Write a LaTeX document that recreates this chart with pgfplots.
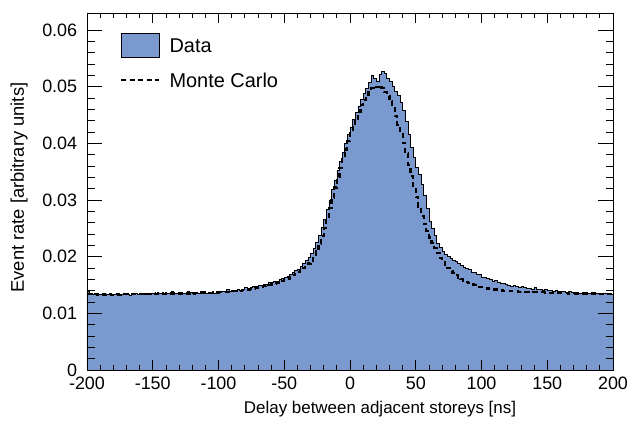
\documentclass[border=0pt]{standalone}
\usepackage{fontspec}
\setmainfont{Liberation Sans}
\usepackage{pgfplots}
\pgfplotsset{compat=1.18}
\definecolor{histblue}{RGB}{122,153,207}

\begin{document}
\fontsize{20}{24}\selectfont
\begin{tikzpicture}
\begin{axis}[
    scale only axis,
    width=526bp, height=357bp,
    xmin=-200, xmax=200,
    ymin=0, ymax=0.063,
    xtick={-200,-150,...,200},
    ytick={0,0.01,...,0.06},
    minor x tick num=4,
    minor y tick num=4,
    tick align=inside,
    axis on top,
    xtick style={/pgfplots/major tick length=10bp,/pgfplots/minor tick length=5bp,black,line width=0.8bp},
    ytick style={/pgfplots/major tick length=15bp,/pgfplots/minor tick length=7.5bp,black,line width=0.8bp},
    axis line style={line width=0.9bp},
    scaled y ticks=false,
    ticklabel style={font=\fontsize{18}{21}\selectfont},
    yticklabel style={/pgf/number format/fixed,/pgf/number format/precision=2,xshift=-3bp},
    /pgf/number format/assume math mode=true,
    xlabel={Delay between adjacent storeys [ns]},
    ylabel={Event rate [arbitrary units]},
    xlabel style={font=\fontsize{17}{20}\selectfont,at={(axis description cs:0.557,-0.109)},anchor=center},
    ylabel style={font=\fontsize{18.4}{22}\selectfont,at={(axis description cs:-0.129,0.511)},anchor=center},
    legend style={draw=none, fill=none, at={(axis description cs:0.063,0.944)},
        anchor=north west, inner sep=0pt, row sep=15bp,
        font=\fontsize{20}{24}\selectfont,
        nodes={inner sep=0pt, text height=14.3bp, text depth=0pt}},
    legend cell align=left,
]

% Data histogram, 2 ns bins
\addplot[const plot, fill=histblue, draw=black, line width=0.7bp,
    legend image code/.code={\draw[fill=histblue,draw=black,line width=0.8bp] (0bp,-12bp) rectangle (38bp,12bp); \path (47bp,0bp);}]
coordinates {
(-200,0.0139)(-198,0.0136)(-196,0.0134)(-194,0.0135)(-192,0.0134)(-190,0.0133)(-188,0.0134)(-186,0.0133)(-184,0.0133)(-182,0.0134)
(-180,0.0133)(-178,0.0134)(-176,0.0132)(-174,0.0134)(-172,0.0135)(-170,0.0133)(-168,0.0132)(-166,0.0134)(-164,0.0135)(-162,0.0134)
(-160,0.0136)(-158,0.0134)(-156,0.0135)(-154,0.0134)(-152,0.0136)(-150,0.0135)(-148,0.0134)(-146,0.0136)(-144,0.0135)(-142,0.0136)
(-140,0.0135)(-138,0.0135)(-136,0.0138)(-134,0.0136)(-132,0.0136)(-130,0.0137)(-128,0.0135)(-126,0.0136)(-124,0.0138)(-122,0.0137)
(-120,0.0136)(-118,0.0137)(-116,0.0136)(-114,0.0138)(-112,0.0139)(-110,0.0136)(-108,0.0137)(-106,0.0137)(-104,0.0136)(-102,0.0138)
(-100,0.0137)(-98,0.0139)(-96,0.0138)(-94,0.0142)(-92,0.0139)(-90,0.0140)(-88,0.0141)(-86,0.0142)(-84,0.0141)(-82,0.0143)
(-80,0.0145)(-78,0.0144)(-76,0.0146)(-74,0.0147)(-72,0.0148)(-70,0.0149)(-68,0.0150)(-66,0.0152)(-64,0.0151)(-62,0.0154)
(-60,0.0155)(-58,0.0157)(-56,0.0156)(-54,0.0160)(-52,0.0161)(-50,0.0163)(-48,0.0166)(-46,0.0168)(-44,0.0172)(-42,0.0175)
(-40,0.0178)(-38,0.0183)(-36,0.0189)(-34,0.0193)(-32,0.0198)(-30,0.0206)(-28,0.0215)(-26,0.0226)(-24,0.0238)(-22,0.0252)
(-20,0.0266)(-18,0.0284)(-16,0.0300)(-14,0.0318)(-12,0.0335)(-10,0.0352)(-8,0.0368)(-6,0.0384)(-4,0.0400)(-2,0.0415)
(0,0.0428)(2,0.0442)(4,0.0455)(6,0.0466)(8,0.0477)(10,0.0488)(12,0.0497)(14,0.0508)(16,0.0520)(18,0.0514)
(20,0.0510)(22,0.0522)(24,0.0527)(26,0.0523)(28,0.0515)(30,0.0510)(32,0.0500)(34,0.0492)(36,0.0484)(38,0.0472)
(40,0.0458)(42,0.0438)(44,0.0415)(46,0.0393)(48,0.0375)(50,0.0358)(52,0.0345)(54,0.0328)(56,0.0308)(58,0.0285)
(60,0.0262)(62,0.0250)(64,0.0238)(66,0.0224)(68,0.0217)(70,0.0210)(72,0.0204)(74,0.0200)(76,0.0197)(78,0.0194)
(80,0.0191)(82,0.0188)(84,0.0185)(86,0.0182)(88,0.0179)(90,0.0177)(92,0.0172)(94,0.0173)(96,0.0169)(98,0.0168)
(100,0.0164)(102,0.0164)(104,0.0161)(106,0.0160)(108,0.0157)(110,0.0158)(112,0.0155)(114,0.0153)(116,0.0153)(118,0.0151)
(120,0.0150)(122,0.0148)(124,0.0149)(126,0.0147)(128,0.0146)(130,0.0148)(132,0.0145)(134,0.0144)(136,0.0144)(138,0.0143)
(140,0.0145)(142,0.0142)(144,0.0142)(146,0.0141)(148,0.0142)(150,0.0140)(152,0.0140)(154,0.0139)(156,0.0140)(158,0.0138)
(160,0.0139)(162,0.0138)(164,0.0137)(166,0.0138)(168,0.0137)(170,0.0136)(172,0.0137)(174,0.0136)(176,0.0136)(178,0.0137)
(180,0.0135)(182,0.0136)(184,0.0135)(186,0.0136)(188,0.0135)(190,0.0134)(192,0.0135)(194,0.0136)(196,0.0133)(198,0.0134)
(200,0.0134)
} \closedcycle;
\addlegendentry{Data}

% Monte Carlo, 2 ns bins
\addplot[const plot, draw=black, line width=2.2bp, dash pattern=on 5bp off 3.5bp,
    legend image code/.code={\draw[black,line width=2.2bp,dash pattern=on 5bp off 3.5bp] (0bp,0bp) -- (38bp,0bp); \path (47bp,0bp);}]
coordinates {
(-200,0.0134)(-198,0.0134)(-196,0.0133)(-194,0.0134)(-192,0.0133)(-190,0.0134)(-188,0.0133)(-186,0.0134)(-184,0.0134)(-182,0.0133)
(-180,0.0134)(-178,0.0134)(-176,0.0133)(-174,0.0134)(-172,0.0134)(-170,0.0134)(-168,0.0133)(-166,0.0134)(-164,0.0134)(-162,0.0134)
(-160,0.0134)(-158,0.0134)(-156,0.0135)(-154,0.0134)(-152,0.0134)(-150,0.0135)(-148,0.0134)(-146,0.0135)(-144,0.0135)(-142,0.0134)
(-140,0.0135)(-138,0.0135)(-136,0.0135)(-134,0.0135)(-132,0.0135)(-130,0.0135)(-128,0.0135)(-126,0.0136)(-124,0.0135)(-122,0.0136)
(-120,0.0135)(-118,0.0136)(-116,0.0136)(-114,0.0136)(-112,0.0136)(-110,0.0136)(-108,0.0136)(-106,0.0136)(-104,0.0137)(-102,0.0136)
(-100,0.0137)(-98,0.0137)(-96,0.0137)(-94,0.0138)(-92,0.0138)(-90,0.0139)(-88,0.0139)(-86,0.0140)(-84,0.0140)(-82,0.0141)
(-80,0.0142)(-78,0.0142)(-76,0.0143)(-74,0.0144)(-72,0.0145)(-70,0.0146)(-68,0.0147)(-66,0.0148)(-64,0.0149)(-62,0.0150)
(-60,0.0151)(-58,0.0152)(-56,0.0154)(-54,0.0155)(-52,0.0157)(-50,0.0159)(-48,0.0161)(-46,0.0164)(-44,0.0167)(-42,0.0170)
(-40,0.0173)(-38,0.0176)(-36,0.0180)(-34,0.0184)(-32,0.0188)(-30,0.0193)(-28,0.0200)(-26,0.0210)(-24,0.0222)(-22,0.0236)
(-20,0.0251)(-18,0.0268)(-16,0.0286)(-14,0.0304)(-12,0.0322)(-10,0.0340)(-8,0.0357)(-6,0.0373)(-4,0.0389)(-2,0.0404)
(0,0.0418)(2,0.0431)(4,0.0444)(6,0.0456)(8,0.0467)(10,0.0477)(12,0.0486)(14,0.0493)(16,0.0497)(18,0.0496)
(20,0.0500)(22,0.0502)(24,0.0497)(26,0.0490)(28,0.0484)(30,0.0474)(32,0.0462)(34,0.0448)(36,0.0432)(38,0.0416)
(40,0.0400)(42,0.0382)(44,0.0362)(46,0.0342)(48,0.0322)(50,0.0305)(52,0.0288)(54,0.0272)(56,0.0258)(58,0.0245)
(60,0.0234)(62,0.0224)(64,0.0215)(66,0.0206)(68,0.0198)(70,0.0191)(72,0.0185)(74,0.0180)(76,0.0175)(78,0.0171)
(80,0.0167)(82,0.0163)(84,0.0160)(86,0.0157)(88,0.0155)(90,0.0153)(92,0.0151)(94,0.0150)(96,0.0148)(98,0.0147)
(100,0.0146)(102,0.0145)(104,0.0144)(106,0.0143)(108,0.0142)(110,0.0142)(112,0.0141)(114,0.0141)(116,0.0140)(118,0.0140)
(120,0.0140)(122,0.0139)(124,0.0139)(126,0.0139)(128,0.0138)(130,0.0138)(132,0.0138)(134,0.0138)(136,0.0137)(138,0.0137)
(140,0.0137)(142,0.0137)(144,0.0137)(146,0.0137)(148,0.0136)(150,0.0136)(152,0.0136)(154,0.0136)(156,0.0136)(158,0.0136)
(160,0.0136)(162,0.0136)(164,0.0136)(166,0.0135)(168,0.0135)(170,0.0135)(172,0.0135)(174,0.0135)(176,0.0135)(178,0.0135)
(180,0.0135)(182,0.0135)(184,0.0135)(186,0.0135)(188,0.0134)(190,0.0134)(192,0.0134)(194,0.0134)(196,0.0134)(198,0.0134)
(200,0.0134)
};
\addlegendentry{Monte Carlo}

\end{axis}
\path ([shift={(-87bp,-56bp)}]current axis.south west) rectangle ([shift={(28bp,13bp)}]current axis.north east);
\end{tikzpicture}
\end{document}
